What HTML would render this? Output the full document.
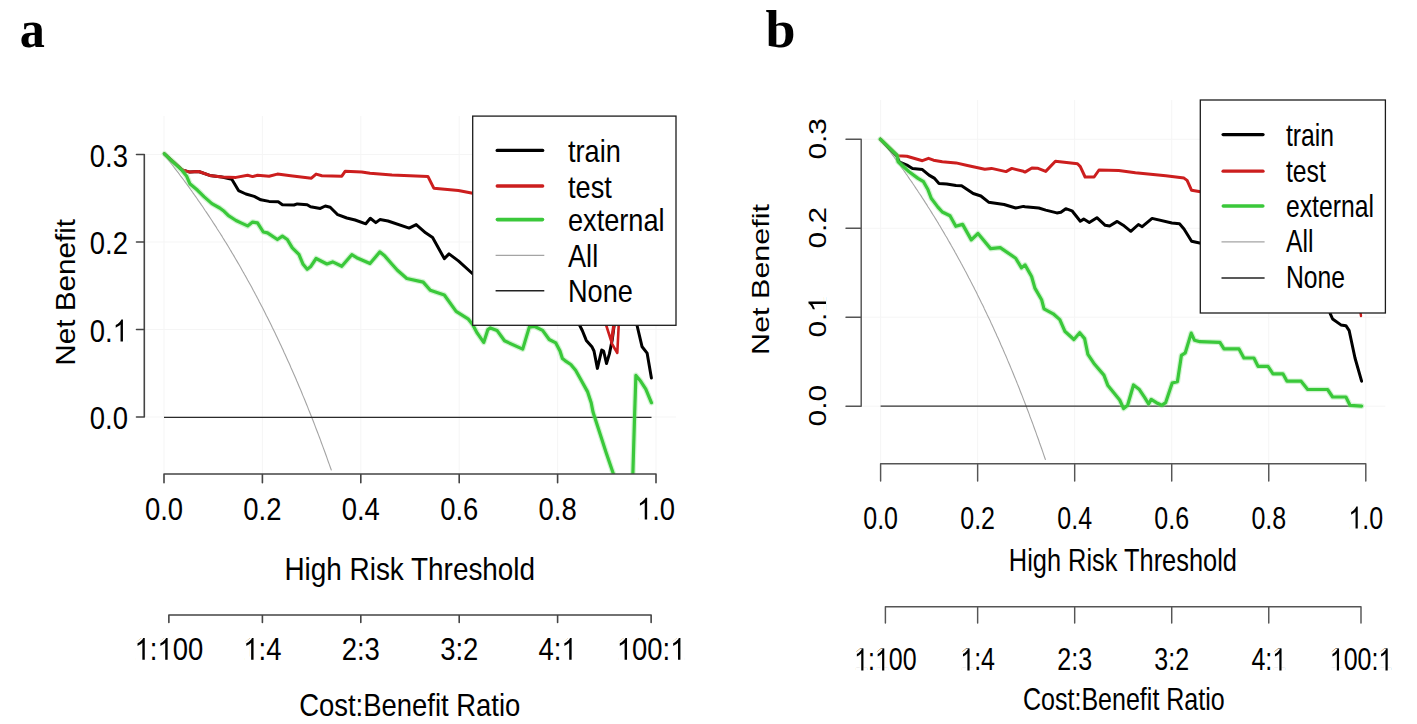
<!DOCTYPE html><html><head><meta charset="utf-8"><style>html,body{margin:0;padding:0;background:#fff;overflow:hidden;}svg{display:block;}</style></head><body>
<svg width="1417" height="724" viewBox="0 0 1417 724">
<rect width="1417" height="724" fill="#fff"/>
<clipPath id="ca"><rect x="144.3" y="116.0" width="531.7" height="358.0"/></clipPath>
<line x1="164.0" y1="116.0" x2="164.0" y2="474.0" stroke="#f5f5f5" stroke-width="1" stroke-linecap="butt"/>
<line x1="262.4" y1="116.0" x2="262.4" y2="474.0" stroke="#f5f5f5" stroke-width="1" stroke-linecap="butt"/>
<line x1="360.8" y1="116.0" x2="360.8" y2="474.0" stroke="#f5f5f5" stroke-width="1" stroke-linecap="butt"/>
<line x1="459.2" y1="116.0" x2="459.2" y2="474.0" stroke="#f5f5f5" stroke-width="1" stroke-linecap="butt"/>
<line x1="557.6" y1="116.0" x2="557.6" y2="474.0" stroke="#f5f5f5" stroke-width="1" stroke-linecap="butt"/>
<line x1="656.0" y1="116.0" x2="656.0" y2="474.0" stroke="#f5f5f5" stroke-width="1" stroke-linecap="butt"/>
<line x1="144.3" y1="417.0" x2="676.0" y2="417.0" stroke="#f5f5f5" stroke-width="1" stroke-linecap="butt"/>
<line x1="144.3" y1="329.5" x2="676.0" y2="329.5" stroke="#f5f5f5" stroke-width="1" stroke-linecap="butt"/>
<line x1="144.3" y1="242.0" x2="676.0" y2="242.0" stroke="#f5f5f5" stroke-width="1" stroke-linecap="butt"/>
<line x1="144.3" y1="154.5" x2="676.0" y2="154.5" stroke="#f5f5f5" stroke-width="1" stroke-linecap="butt"/>
<g clip-path="url(#ca)">
<path d="M164.0,154.5 L165.0,155.7 L166.0,157.0 L167.0,158.2 L167.9,159.4 L168.9,160.7 L169.9,161.9 L170.9,163.2 L171.9,164.5 L172.9,165.7 L173.8,167.0 L174.8,168.3 L175.8,169.6 L176.8,170.9 L177.8,172.1 L178.8,173.4 L179.7,174.7 L180.7,176.1 L181.7,177.4 L182.7,178.7 L183.7,180.0 L184.7,181.4 L185.6,182.7 L186.6,184.0 L187.6,185.4 L188.6,186.7 L189.6,188.1 L190.6,189.5 L191.6,190.8 L192.5,192.2 L193.5,193.6 L194.5,195.0 L195.5,196.4 L196.5,197.8 L197.5,199.2 L198.4,200.6 L199.4,202.0 L200.4,203.4 L201.4,204.9 L202.4,206.3 L203.4,207.8 L204.3,209.2 L205.3,210.7 L206.3,212.1 L207.3,213.6 L208.3,215.1 L209.3,216.6 L210.2,218.0 L211.2,219.5 L212.2,221.0 L213.2,222.6 L214.2,224.1 L215.2,225.6 L216.2,227.1 L217.1,228.7 L218.1,230.2 L219.1,231.8 L220.1,233.3 L221.1,234.9 L222.1,236.4 L223.0,238.0 L224.0,239.6 L225.0,241.2 L226.0,242.8 L227.0,244.4 L228.0,246.0 L228.9,247.6 L229.9,249.3 L230.9,250.9 L231.9,252.6 L232.9,254.2 L233.9,255.9 L234.8,257.5 L235.8,259.2 L236.8,260.9 L237.8,262.6 L238.8,264.3 L239.8,266.0 L240.8,267.7 L241.7,269.4 L242.7,271.2 L243.7,272.9 L244.7,274.7 L245.7,276.4 L246.7,278.2 L247.6,280.0 L248.6,281.7 L249.6,283.5 L250.6,285.3 L251.6,287.1 L252.6,289.0 L253.5,290.8 L254.5,292.6 L255.5,294.5 L256.5,296.3 L257.5,298.2 L258.5,300.0 L259.4,301.9 L260.4,303.8 L261.4,305.7 L262.4,307.6 L263.4,309.5 L264.4,311.5 L265.4,313.4 L266.3,315.4 L267.3,317.3 L268.3,319.3 L269.3,321.3 L270.3,323.3 L271.3,325.2 L272.2,327.3 L273.2,329.3 L274.2,331.3 L275.2,333.3 L276.2,335.4 L277.2,337.5 L278.1,339.5 L279.1,341.6 L280.1,343.7 L281.1,345.8 L282.1,347.9 L283.1,350.0 L284.0,352.2 L285.0,354.3 L286.0,356.5 L287.0,358.7 L288.0,360.9 L289.0,363.0 L290.0,365.3 L290.9,367.5 L291.9,369.7 L292.9,371.9 L293.9,374.2 L294.9,376.5 L295.9,378.7 L296.8,381.0 L297.8,383.3 L298.8,385.7 L299.8,388.0 L300.8,390.3 L301.8,392.7 L302.7,395.1 L303.7,397.4 L304.7,399.8 L305.7,402.3 L306.7,404.7 L307.7,407.1 L308.6,409.6 L309.6,412.0 L310.6,414.5 L311.6,417.0 L312.6,419.5 L313.6,422.0 L314.6,424.6 L315.5,427.1 L316.5,429.7 L317.5,432.3 L318.5,434.9 L319.5,437.5 L320.5,440.1 L321.4,442.7 L322.4,445.4 L323.4,448.1 L324.4,450.8 L325.4,453.5 L326.4,456.2 L327.3,458.9 L328.3,461.7 L329.3,464.4 L330.3,467.2 L331.3,470.0" fill="none" stroke="#a4a4a4" stroke-width="1.1" stroke-linejoin="round" stroke-linecap="round" />
<line x1="164.0" y1="417.3" x2="651.5" y2="417.3" stroke="#2a2a2a" stroke-width="1.3" stroke-linecap="butt"/>
</g>
<g clip-path="url(#ca)">
<path d="M164.4,153.8 L182.1,169.9 L189.8,172.1 L198.7,171.5 L209.7,175.4 L221.9,177.0 L231.8,179.3 L235.1,184.8 L238.5,190.6 L245.9,194.0 L254.2,196.4 L260.8,199.8 L269.1,201.4 L278.2,201.7 L282.4,204.7 L294.0,205.0 L297.3,203.9 L307.2,204.7 L310.5,206.7 L320.3,208.4 L325.3,206.0 L330.2,207.2 L337.7,214.7 L346.8,218.0 L355.1,220.0 L365.8,223.8 L370.3,218.3 L375.8,222.6 L379.9,219.6 L388.0,221.0 L409.1,228.1 L416.2,224.6 L425.6,232.8 L432.6,237.5 L444.3,258.6 L449.0,253.9 L458.4,260.9 L474.0,275.0" fill="none" stroke="#000" stroke-width="3.0" stroke-linejoin="round" stroke-linecap="round" />
<path d="M579.0,324.0 L582.4,330.7 L586.3,340.4 L592.1,347.1 L594.0,351.0 L597.4,368.4 L601.7,350.0 L603.6,351.0 L606.5,363.5 L609.4,353.9 L612.3,339.4 L614.3,324.0" fill="none" stroke="#000" stroke-width="3.0" stroke-linejoin="round" stroke-linecap="round" />
<path d="M636.7,324.0 L642.1,346.8 L647.1,353.1 L651.4,377.9" fill="none" stroke="#000" stroke-width="3.0" stroke-linejoin="round" stroke-linecap="round" />
<path d="M164.4,153.8 L182.1,169.9 L189.8,172.1 L198.7,171.5 L209.7,175.4 L221.9,177.0 L236.0,177.4 L247.6,175.2 L252.6,176.6 L257.5,175.2 L269.1,176.2 L277.4,174.1 L290.7,175.7 L311.4,178.2 L316.1,174.1 L321.9,175.7 L341.8,176.2 L345.1,171.3 L361.7,171.9 L370.0,173.3 L392.0,174.9 L427.9,176.4 L433.8,188.2 L458.4,190.5 L474.0,193.5" fill="none" stroke="#cc1e1e" stroke-width="3.0" stroke-linejoin="round" stroke-linecap="round" />
<path d="M606.1,325.0 L611.2,341.0 L613.5,325.0 L614.2,325.0 L611.5,343.0 L617.3,353.0 L618.7,325.0" fill="none" stroke="#cc1e1e" stroke-width="2.6" stroke-linejoin="round" stroke-linecap="round" />
<path d="M164.4,153.8 L182.1,170.4 L186.5,175.9 L189.8,183.7 L197.6,190.3 L204.2,196.9 L211.9,203.6 L219.7,208.0 L224.1,211.3 L228.5,215.7 L236.0,220.5 L241.0,222.9 L247.6,225.9 L252.6,222.1 L257.5,222.9 L263.3,232.0 L267.5,232.9 L277.4,239.5 L282.4,236.2 L287.3,239.5 L292.3,247.8 L298.9,254.4 L303.1,264.3 L307.2,269.3 L310.5,266.8 L316.1,258.5 L326.9,264.0 L332.7,261.9 L341.8,266.3 L351.8,254.7 L356.7,257.7 L370.0,263.5 L379.9,251.9 L384.9,256.1 L392.0,264.3 L397.4,270.3 L406.8,278.5 L423.2,282.1 L430.3,290.3 L444.3,295.0 L456.1,311.4 L468.0,318.8 L472.6,324.6 L477.1,332.9 L483.7,342.4 L487.9,329.6 L490.4,327.9 L497.0,330.4 L504.5,340.8 L522.7,349.1 L529.3,327.1 L534.3,326.3 L542.6,330.4 L549.2,339.5 L555.8,342.9 L560.0,351.1 L562.4,358.6 L565.0,360.6 L570.8,364.5 L575.6,370.3 L580.5,379.0 L587.5,391.6 L591.2,402.7 L593.0,412.0 L606.0,452.2 L614.1,476.0" fill="none" stroke="#7fe07f" stroke-width="5.6" stroke-linejoin="round" stroke-linecap="round" opacity="0.35"/>
<path d="M632.8,476.0 L634.7,412.0 L635.9,375.4 L640.9,381.6 L645.8,389.1 L651.4,402.7" fill="none" stroke="#7fe07f" stroke-width="5.6" stroke-linejoin="round" stroke-linecap="round" opacity="0.35"/>
<path d="M164.4,153.8 L182.1,170.4 L186.5,175.9 L189.8,183.7 L197.6,190.3 L204.2,196.9 L211.9,203.6 L219.7,208.0 L224.1,211.3 L228.5,215.7 L236.0,220.5 L241.0,222.9 L247.6,225.9 L252.6,222.1 L257.5,222.9 L263.3,232.0 L267.5,232.9 L277.4,239.5 L282.4,236.2 L287.3,239.5 L292.3,247.8 L298.9,254.4 L303.1,264.3 L307.2,269.3 L310.5,266.8 L316.1,258.5 L326.9,264.0 L332.7,261.9 L341.8,266.3 L351.8,254.7 L356.7,257.7 L370.0,263.5 L379.9,251.9 L384.9,256.1 L392.0,264.3 L397.4,270.3 L406.8,278.5 L423.2,282.1 L430.3,290.3 L444.3,295.0 L456.1,311.4 L468.0,318.8 L472.6,324.6 L477.1,332.9 L483.7,342.4 L487.9,329.6 L490.4,327.9 L497.0,330.4 L504.5,340.8 L522.7,349.1 L529.3,327.1 L534.3,326.3 L542.6,330.4 L549.2,339.5 L555.8,342.9 L560.0,351.1 L562.4,358.6 L565.0,360.6 L570.8,364.5 L575.6,370.3 L580.5,379.0 L587.5,391.6 L591.2,402.7 L593.0,412.0 L606.0,452.2 L614.1,476.0" fill="none" stroke="#3ac83a" stroke-width="3.2" stroke-linejoin="round" stroke-linecap="round" />
<path d="M632.8,476.0 L634.7,412.0 L635.9,375.4 L640.9,381.6 L645.8,389.1 L651.4,402.7" fill="none" stroke="#3ac83a" stroke-width="3.2" stroke-linejoin="round" stroke-linecap="round" />
</g>
<path d="M136.5,154.5 H144.3 V417.0 H136.5 M136.5,329.5 H144.3 M136.5,242.0 H144.3" fill="none" stroke="#444" stroke-width="1.6" stroke-linejoin="round" stroke-linecap="round"/>
<path d="M164.0,474.0 H656.0 M164.0,474.0 V482.7 M262.4,474.0 V482.7 M360.8,474.0 V482.7 M459.2,474.0 V482.7 M557.6,474.0 V482.7 M656.0,474.0 V482.7" fill="none" stroke="#444" stroke-width="1.6" stroke-linejoin="round" stroke-linecap="round"/>
<path d="M168.8708,615 H651.1292 M168.8708,615 V622.5 M262.4,615 V622.5 M360.8,615 V622.5 M459.2,615 V622.5 M557.6,615 V622.5 M651.1292,615 V622.5" fill="none" stroke="#444" stroke-width="1.6" stroke-linejoin="round" stroke-linecap="round"/>
<text x="0" y="0" font-size="30.5" text-anchor="end" font-family='"Liberation Sans", sans-serif' font-weight="normal" fill="#000" transform="translate(128.00,429.00) scale(0.9000,1.0000)">0.0</text>
<g transform="translate(128.00,341.50) scale(0.9000,1.0000)"><text id="t1" x="0" y="0" font-size="30.5" text-anchor="end" font-family='"Liberation Sans", sans-serif' font-weight="normal" fill="#000">0.1</text><path d="M156 0V153H515V1237L197 1010V1180L530 1409H696V153H1039V0Z" transform="translate(-16.983,0.000) scale(0.014893,-0.014893)" fill="#fff" stroke="#fff" stroke-width="120.9"/><path d="M763 0H583V1147Q518 1085 412.5 1023Q307 961 223 930V1104Q374 1175 487 1276Q600 1377 647 1472H763Z" transform="translate(-16.983,0.000) scale(0.014893,-0.014893)" fill="#000"/></g>
<text x="0" y="0" font-size="30.5" text-anchor="end" font-family='"Liberation Sans", sans-serif' font-weight="normal" fill="#000" transform="translate(128.00,254.00) scale(0.9000,1.0000)">0.2</text>
<text x="0" y="0" font-size="30.5" text-anchor="end" font-family='"Liberation Sans", sans-serif' font-weight="normal" fill="#000" transform="translate(128.00,166.50) scale(0.9000,1.0000)">0.3</text>
<text x="0" y="0" font-size="30.5" text-anchor="middle" font-family='"Liberation Sans", sans-serif' font-weight="normal" fill="#000" transform="translate(164.00,519.60) scale(0.9000,1.0000)">0.0</text>
<text x="0" y="0" font-size="30.5" text-anchor="middle" font-family='"Liberation Sans", sans-serif' font-weight="normal" fill="#000" transform="translate(262.40,519.60) scale(0.9000,1.0000)">0.2</text>
<text x="0" y="0" font-size="30.5" text-anchor="middle" font-family='"Liberation Sans", sans-serif' font-weight="normal" fill="#000" transform="translate(360.80,519.60) scale(0.9000,1.0000)">0.4</text>
<text x="0" y="0" font-size="30.5" text-anchor="middle" font-family='"Liberation Sans", sans-serif' font-weight="normal" fill="#000" transform="translate(459.20,519.60) scale(0.9000,1.0000)">0.6</text>
<text x="0" y="0" font-size="30.5" text-anchor="middle" font-family='"Liberation Sans", sans-serif' font-weight="normal" fill="#000" transform="translate(557.60,519.60) scale(0.9000,1.0000)">0.8</text>
<g transform="translate(656.00,519.60) scale(0.9000,1.0000)"><text id="t2" x="0" y="0" font-size="30.5" text-anchor="middle" font-family='"Liberation Sans", sans-serif' font-weight="normal" fill="#000">1.0</text><path d="M156 0V153H515V1237L197 1010V1180L530 1409H696V153H1039V0Z" transform="translate(-21.196,0.000) scale(0.014893,-0.014893)" fill="#fff" stroke="#fff" stroke-width="120.9"/><path d="M763 0H583V1147Q518 1085 412.5 1023Q307 961 223 930V1104Q374 1175 487 1276Q600 1377 647 1472H763Z" transform="translate(-21.196,0.000) scale(0.014893,-0.014893)" fill="#000"/></g>
<g transform="translate(168.87,659.80) scale(0.9000,1.0000)"><text id="t3" x="0" y="0" font-size="30.5" text-anchor="middle" font-family='"Liberation Sans", sans-serif' font-weight="normal" fill="#000">1:100</text><path d="M156 0V153H515V1237L197 1010V1180L530 1409H696V153H1039V0Z" transform="translate(-38.146,0.000) scale(0.014893,-0.014893)" fill="#fff" stroke="#fff" stroke-width="120.9"/><path d="M763 0H583V1147Q518 1085 412.5 1023Q307 961 223 930V1104Q374 1175 487 1276Q600 1377 647 1472H763Z" transform="translate(-38.146,0.000) scale(0.014893,-0.014893)" fill="#000"/><path d="M156 0V153H515V1237L197 1010V1180L530 1409H696V153H1039V0Z" transform="translate(-12.737,0.000) scale(0.014893,-0.014893)" fill="#fff" stroke="#fff" stroke-width="120.9"/><path d="M763 0H583V1147Q518 1085 412.5 1023Q307 961 223 930V1104Q374 1175 487 1276Q600 1377 647 1472H763Z" transform="translate(-12.737,0.000) scale(0.014893,-0.014893)" fill="#000"/></g>
<g transform="translate(262.40,659.80) scale(0.9000,1.0000)"><text id="t4" x="0" y="0" font-size="30.5" text-anchor="middle" font-family='"Liberation Sans", sans-serif' font-weight="normal" fill="#000">1:4</text><path d="M156 0V153H515V1237L197 1010V1180L530 1409H696V153H1039V0Z" transform="translate(-21.196,0.000) scale(0.014893,-0.014893)" fill="#fff" stroke="#fff" stroke-width="120.9"/><path d="M763 0H583V1147Q518 1085 412.5 1023Q307 961 223 930V1104Q374 1175 487 1276Q600 1377 647 1472H763Z" transform="translate(-21.196,0.000) scale(0.014893,-0.014893)" fill="#000"/></g>
<text x="0" y="0" font-size="30.5" text-anchor="middle" font-family='"Liberation Sans", sans-serif' font-weight="normal" fill="#000" transform="translate(360.80,659.80) scale(0.9000,1.0000)">2:3</text>
<text x="0" y="0" font-size="30.5" text-anchor="middle" font-family='"Liberation Sans", sans-serif' font-weight="normal" fill="#000" transform="translate(459.20,659.80) scale(0.9000,1.0000)">3:2</text>
<g transform="translate(557.60,659.80) scale(0.9000,1.0000)"><text id="t5" x="0" y="0" font-size="30.5" text-anchor="middle" font-family='"Liberation Sans", sans-serif' font-weight="normal" fill="#000">4:1</text><path d="M156 0V153H515V1237L197 1010V1180L530 1409H696V153H1039V0Z" transform="translate(4.213,0.000) scale(0.014893,-0.014893)" fill="#fff" stroke="#fff" stroke-width="120.9"/><path d="M763 0H583V1147Q518 1085 412.5 1023Q307 961 223 930V1104Q374 1175 487 1276Q600 1377 647 1472H763Z" transform="translate(4.213,0.000) scale(0.014893,-0.014893)" fill="#000"/></g>
<g transform="translate(651.13,659.80) scale(0.9000,1.0000)"><text id="t6" x="0" y="0" font-size="30.5" text-anchor="middle" font-family='"Liberation Sans", sans-serif' font-weight="normal" fill="#000">100:1</text><path d="M156 0V153H515V1237L197 1010V1180L530 1409H696V153H1039V0Z" transform="translate(-38.146,0.000) scale(0.014893,-0.014893)" fill="#fff" stroke="#fff" stroke-width="120.9"/><path d="M763 0H583V1147Q518 1085 412.5 1023Q307 961 223 930V1104Q374 1175 487 1276Q600 1377 647 1472H763Z" transform="translate(-38.146,0.000) scale(0.014893,-0.014893)" fill="#000"/><path d="M156 0V153H515V1237L197 1010V1180L530 1409H696V153H1039V0Z" transform="translate(21.180,0.000) scale(0.014893,-0.014893)" fill="#fff" stroke="#fff" stroke-width="120.9"/><path d="M763 0H583V1147Q518 1085 412.5 1023Q307 961 223 930V1104Q374 1175 487 1276Q600 1377 647 1472H763Z" transform="translate(21.180,0.000) scale(0.014893,-0.014893)" fill="#000"/></g>
<text x="0" y="0" font-size="30.5" text-anchor="middle" font-family='"Liberation Sans", sans-serif' font-weight="normal" fill="#000" transform="translate(409.75,579.60) scale(0.9150,1.0000)">High Risk Threshold</text>
<text x="0" y="0" font-size="30.5" text-anchor="middle" font-family='"Liberation Sans", sans-serif' font-weight="normal" fill="#000" transform="translate(409.75,716.00) scale(0.9000,1.0000)">Cost:Benefit Ratio</text>
<text x="0" y="0" font-size="30.5" text-anchor="middle" font-family='"Liberation Sans", sans-serif' font-weight="normal" fill="#000" transform="translate(75.40,292.35) rotate(-90) scale(0.9730,0.9090)">Net Benefit</text>
<rect x="472.7" y="116.1" width="203.3" height="209.2" fill="#fff" stroke="#1c1c1c" stroke-width="1.3"/>
<line x1="497.2" y1="150.4" x2="542.7" y2="150.4" stroke="#000" stroke-width="3.3" stroke-linecap="round"/>
<line x1="497.2" y1="186" x2="542.7" y2="186" stroke="#cc1e1e" stroke-width="3.3" stroke-linecap="round"/>
<line x1="497.4" y1="219.6" x2="542.5" y2="219.6" stroke="#3ac83a" stroke-width="3.6" stroke-linecap="round"/>
<line x1="495.6" y1="255.3" x2="544.3" y2="255.3" stroke="#a4a4a4" stroke-width="1.2" stroke-linecap="butt"/>
<line x1="495.6" y1="290.8" x2="544.3" y2="290.8" stroke="#222" stroke-width="1.4" stroke-linecap="butt"/>
<text x="0" y="0" font-size="30.5" text-anchor="start" font-family='"Liberation Sans", sans-serif' font-weight="normal" fill="#000" transform="translate(568.00,161.90) scale(0.8900,1.0000)">train</text>
<text x="0" y="0" font-size="30.5" text-anchor="start" font-family='"Liberation Sans", sans-serif' font-weight="normal" fill="#000" transform="translate(568.00,197.50) scale(0.8900,1.0000)">test</text>
<text x="0" y="0" font-size="30.5" text-anchor="start" font-family='"Liberation Sans", sans-serif' font-weight="normal" fill="#000" transform="translate(568.00,231.10) scale(0.8900,1.0000)">external</text>
<text x="0" y="0" font-size="30.5" text-anchor="start" font-family='"Liberation Sans", sans-serif' font-weight="normal" fill="#000" transform="translate(568.00,266.80) scale(0.8900,1.0000)">All</text>
<text x="0" y="0" font-size="30.5" text-anchor="start" font-family='"Liberation Sans", sans-serif' font-weight="normal" fill="#000" transform="translate(568.00,302.30) scale(0.8900,1.0000)">None</text>
<text x="0" y="0" font-size="54" text-anchor="start" font-family='"Liberation Serif", serif' font-weight="bold" fill="#000" transform="translate(19.80,47.20) scale(0.9300,0.9800)">a</text>
<clipPath id="cb"><rect x="861.2" y="100.0" width="524.2" height="363.8"/></clipPath>
<line x1="880.6" y1="100.0" x2="880.6" y2="463.8" stroke="#f5f5f5" stroke-width="1" stroke-linecap="butt"/>
<line x1="977.64" y1="100.0" x2="977.64" y2="463.8" stroke="#f5f5f5" stroke-width="1" stroke-linecap="butt"/>
<line x1="1074.68" y1="100.0" x2="1074.68" y2="463.8" stroke="#f5f5f5" stroke-width="1" stroke-linecap="butt"/>
<line x1="1171.72" y1="100.0" x2="1171.72" y2="463.8" stroke="#f5f5f5" stroke-width="1" stroke-linecap="butt"/>
<line x1="1268.76" y1="100.0" x2="1268.76" y2="463.8" stroke="#f5f5f5" stroke-width="1" stroke-linecap="butt"/>
<line x1="1365.8" y1="100.0" x2="1365.8" y2="463.8" stroke="#f5f5f5" stroke-width="1" stroke-linecap="butt"/>
<line x1="861.2" y1="406.2" x2="1385.4" y2="406.2" stroke="#f5f5f5" stroke-width="1" stroke-linecap="butt"/>
<line x1="861.2" y1="317.23333333333335" x2="1385.4" y2="317.23333333333335" stroke="#f5f5f5" stroke-width="1" stroke-linecap="butt"/>
<line x1="861.2" y1="228.26666666666665" x2="1385.4" y2="228.26666666666665" stroke="#f5f5f5" stroke-width="1" stroke-linecap="butt"/>
<line x1="861.2" y1="139.3" x2="1385.4" y2="139.3" stroke="#f5f5f5" stroke-width="1" stroke-linecap="butt"/>
<g clip-path="url(#cb)">
<path d="M880.6,139.3 L881.6,140.5 L882.5,141.8 L883.5,143.1 L884.5,144.3 L885.5,145.6 L886.4,146.9 L887.4,148.1 L888.4,149.4 L889.3,150.7 L890.3,152.0 L891.3,153.3 L892.2,154.6 L893.2,155.9 L894.2,157.2 L895.2,158.6 L896.1,159.9 L897.1,161.2 L898.1,162.6 L899.0,163.9 L900.0,165.2 L901.0,166.6 L901.9,168.0 L902.9,169.3 L903.9,170.7 L904.9,172.1 L905.8,173.5 L906.8,174.8 L907.8,176.2 L908.7,177.6 L909.7,179.1 L910.7,180.5 L911.7,181.9 L912.6,183.3 L913.6,184.7 L914.6,186.2 L915.5,187.6 L916.5,189.1 L917.5,190.5 L918.4,192.0 L919.4,193.5 L920.4,194.9 L921.4,196.4 L922.3,197.9 L923.3,199.4 L924.3,200.9 L925.2,202.4 L926.2,203.9 L927.2,205.4 L928.1,207.0 L929.1,208.5 L930.1,210.0 L931.1,211.6 L932.0,213.1 L933.0,214.7 L934.0,216.3 L934.9,217.8 L935.9,219.4 L936.9,221.0 L937.9,222.6 L938.8,224.2 L939.8,225.8 L940.8,227.5 L941.7,229.1 L942.7,230.7 L943.7,232.4 L944.6,234.0 L945.6,235.7 L946.6,237.3 L947.6,239.0 L948.5,240.7 L949.5,242.4 L950.5,244.1 L951.4,245.8 L952.4,247.5 L953.4,249.2 L954.4,250.9 L955.3,252.7 L956.3,254.4 L957.3,256.2 L958.2,257.9 L959.2,259.7 L960.2,261.5 L961.1,263.3 L962.1,265.1 L963.1,266.9 L964.1,268.7 L965.0,270.5 L966.0,272.3 L967.0,274.2 L967.9,276.0 L968.9,277.9 L969.9,279.7 L970.8,281.6 L971.8,283.5 L972.8,285.4 L973.8,287.3 L974.7,289.2 L975.7,291.1 L976.7,293.1 L977.6,295.0 L978.6,296.9 L979.6,298.9 L980.6,300.9 L981.5,302.9 L982.5,304.8 L983.5,306.8 L984.4,308.9 L985.4,310.9 L986.4,312.9 L987.3,315.0 L988.3,317.0 L989.3,319.1 L990.3,321.1 L991.2,323.2 L992.2,325.3 L993.2,327.4 L994.1,329.5 L995.1,331.7 L996.1,333.8 L997.0,336.0 L998.0,338.1 L999.0,340.3 L1000.0,342.5 L1000.9,344.7 L1001.9,346.9 L1002.9,349.1 L1003.8,351.3 L1004.8,353.6 L1005.8,355.8 L1006.8,358.1 L1007.7,360.4 L1008.7,362.7 L1009.7,365.0 L1010.6,367.3 L1011.6,369.6 L1012.6,372.0 L1013.5,374.3 L1014.5,376.7 L1015.5,379.1 L1016.5,381.5 L1017.4,383.9 L1018.4,386.3 L1019.4,388.8 L1020.3,391.2 L1021.3,393.7 L1022.3,396.1 L1023.2,398.6 L1024.2,401.1 L1025.2,403.7 L1026.2,406.2 L1027.1,408.7 L1028.1,411.3 L1029.1,413.9 L1030.0,416.5 L1031.0,419.1 L1032.0,421.7 L1033.0,424.4 L1033.9,427.0 L1034.9,429.7 L1035.9,432.4 L1036.8,435.1 L1037.8,437.8 L1038.8,440.5 L1039.7,443.3 L1040.7,446.0 L1041.7,448.8 L1042.7,451.6 L1043.6,454.4 L1044.6,457.3 L1045.4,459.5" fill="none" stroke="#a4a4a4" stroke-width="1.1" stroke-linejoin="round" stroke-linecap="round" />
<line x1="880.6" y1="406.2" x2="1361.6" y2="406.2" stroke="#333" stroke-width="1.25" stroke-linecap="butt"/>
</g>
<g clip-path="url(#cb)">
<path d="M880.4,139.2 L897.0,156.3 L899.2,161.8 L906.9,165.1 L912.5,168.5 L922.4,169.6 L929.0,175.1 L934.6,178.4 L939.0,183.4 L946.7,183.9 L956.0,185.6 L961.6,185.7 L973.2,193.5 L980.9,196.0 L988.6,202.2 L1004.1,204.5 L1015.7,208.0 L1023.4,206.4 L1025.0,206.7 L1038.8,208.0 L1045.7,210.1 L1056.8,212.9 L1060.9,212.2 L1065.8,208.7 L1072.0,210.8 L1080.3,221.2 L1083.7,219.1 L1089.3,222.6 L1096.9,217.7 L1105.2,225.3 L1109.6,226.0 L1117.2,221.4 L1123.2,225.2 L1130.8,231.3 L1138.4,224.5 L1142.2,226.7 L1152.1,218.4 L1171.9,223.0 L1179.5,223.7 L1184.0,229.0 L1191.6,241.2 L1202.0,243.5" fill="none" stroke="#000" stroke-width="3.0" stroke-linejoin="round" stroke-linecap="round" />
<path d="M1330.1,313.3 L1332.6,319.0 L1340.9,324.9 L1345.9,325.7 L1349.2,330.7 L1355.0,358.0 L1361.6,381.2" fill="none" stroke="#000" stroke-width="3.0" stroke-linejoin="round" stroke-linecap="round" />
<path d="M880.4,139.2 L897.0,155.2 L898.1,155.8 L906.9,156.3 L914.7,158.5 L922.4,160.7 L928.5,158.3 L933.5,160.2 L942.3,161.8 L956.0,162.9 L967.4,165.5 L984.8,169.3 L991.5,168.4 L1006.0,171.6 L1011.8,168.4 L1023.4,171.3 L1025.0,172.1 L1031.9,168.0 L1037.4,168.2 L1045.7,171.4 L1055.4,161.3 L1066.5,162.4 L1077.5,163.8 L1080.3,166.6 L1085.1,177.0 L1094.1,177.0 L1099.0,170.0 L1118.7,170.5 L1135.4,172.8 L1165.8,175.8 L1184.0,178.1 L1187.1,180.4 L1191.6,190.3 L1202.0,192.0" fill="none" stroke="#cc1e1e" stroke-width="3.0" stroke-linejoin="round" stroke-linecap="round" />
<path d="M1360.5,312.5 L1361.0,316.0" fill="none" stroke="#cc1e1e" stroke-width="2.4" stroke-linejoin="round" stroke-linecap="round" />
<path d="M880.4,139.2 L897.0,155.2 L898.1,161.8 L909.1,171.8 L918.0,178.4 L923.5,181.7 L927.9,189.5 L931.2,198.3 L937.9,207.1 L942.3,212.0 L950.0,215.7 L955.8,226.3 L962.6,224.4 L971.3,239.9 L978.0,233.5 L990.6,248.6 L1000.2,247.6 L1015.7,258.2 L1021.5,267.9 L1025.0,264.9 L1031.6,276.5 L1034.9,288.1 L1041.6,299.7 L1044.0,308.8 L1053.2,313.8 L1059.8,319.6 L1064.8,331.2 L1073.9,339.5 L1079.7,332.8 L1084.6,338.6 L1087.9,354.4 L1094.6,364.3 L1103.9,375.1 L1107.9,385.6 L1114.4,393.5 L1119.7,400.0 L1123.6,408.6 L1127.6,405.3 L1133.5,385.0 L1139.4,389.6 L1144.6,397.4 L1148.6,404.0 L1151.2,399.4 L1156.4,402.7 L1161.7,405.3 L1165.6,402.7 L1172.2,383.0 L1177.4,381.7 L1181.4,355.4 L1185.3,352.8 L1191.2,333.1 L1194.5,340.3 L1200.0,341.7 L1219.9,342.3 L1224.0,348.9 L1239.0,348.9 L1243.9,358.0 L1253.9,358.0 L1258.0,366.3 L1268.0,366.3 L1273.0,373.8 L1282.9,373.8 L1287.0,381.2 L1301.1,381.2 L1307.7,389.5 L1327.6,389.5 L1332.6,397.0 L1345.9,397.0 L1350.0,405.3 L1361.6,406.1" fill="none" stroke="#7fe07f" stroke-width="5.6" stroke-linejoin="round" stroke-linecap="round" opacity="0.35"/>
<path d="M880.4,139.2 L897.0,155.2 L898.1,161.8 L909.1,171.8 L918.0,178.4 L923.5,181.7 L927.9,189.5 L931.2,198.3 L937.9,207.1 L942.3,212.0 L950.0,215.7 L955.8,226.3 L962.6,224.4 L971.3,239.9 L978.0,233.5 L990.6,248.6 L1000.2,247.6 L1015.7,258.2 L1021.5,267.9 L1025.0,264.9 L1031.6,276.5 L1034.9,288.1 L1041.6,299.7 L1044.0,308.8 L1053.2,313.8 L1059.8,319.6 L1064.8,331.2 L1073.9,339.5 L1079.7,332.8 L1084.6,338.6 L1087.9,354.4 L1094.6,364.3 L1103.9,375.1 L1107.9,385.6 L1114.4,393.5 L1119.7,400.0 L1123.6,408.6 L1127.6,405.3 L1133.5,385.0 L1139.4,389.6 L1144.6,397.4 L1148.6,404.0 L1151.2,399.4 L1156.4,402.7 L1161.7,405.3 L1165.6,402.7 L1172.2,383.0 L1177.4,381.7 L1181.4,355.4 L1185.3,352.8 L1191.2,333.1 L1194.5,340.3 L1200.0,341.7 L1219.9,342.3 L1224.0,348.9 L1239.0,348.9 L1243.9,358.0 L1253.9,358.0 L1258.0,366.3 L1268.0,366.3 L1273.0,373.8 L1282.9,373.8 L1287.0,381.2 L1301.1,381.2 L1307.7,389.5 L1327.6,389.5 L1332.6,397.0 L1345.9,397.0 L1350.0,405.3 L1361.6,406.1" fill="none" stroke="#3ac83a" stroke-width="3.2" stroke-linejoin="round" stroke-linecap="round" />
</g>
<path d="M846,139.3 H861.2 V406.2 H846 M846,317.23333333333335 H861.2 M846,228.26666666666665 H861.2" fill="none" stroke="#555" stroke-width="1.45" stroke-linejoin="round" stroke-linecap="round"/>
<path d="M880.6,463.8 H1365.8 M880.6,463.8 V481.1 M977.64,463.8 V481.1 M1074.68,463.8 V481.1 M1171.72,463.8 V481.1 M1268.76,463.8 V481.1 M1365.8,463.8 V481.1" fill="none" stroke="#555" stroke-width="1.45" stroke-linejoin="round" stroke-linecap="round"/>
<path d="M885.4034800000001,606.8 H1360.99652 M885.4034800000001,606.8 V623 M977.64,606.8 V623 M1074.68,606.8 V623 M1171.72,606.8 V623 M1268.76,606.8 V623 M1360.99652,606.8 V623" fill="none" stroke="#555" stroke-width="1.45" stroke-linejoin="round" stroke-linecap="round"/>
<text x="0" y="0" font-size="30.5" text-anchor="middle" font-family='"Liberation Sans", sans-serif' font-weight="normal" fill="#000" transform="translate(826.00,405.70) rotate(-90) scale(0.9800,0.8000)">0.0</text>
<g transform="translate(826.00,316.73) rotate(-90) scale(0.9800,0.8000)"><text id="t7" x="0" y="0" font-size="30.5" text-anchor="middle" font-family='"Liberation Sans", sans-serif' font-weight="normal" fill="#000">0.1</text><path d="M156 0V153H515V1237L197 1010V1180L530 1409H696V153H1039V0Z" transform="translate(4.227,0.000) scale(0.014893,-0.014893)" fill="#fff" stroke="#fff" stroke-width="120.9"/><path d="M763 0H583V1147Q518 1085 412.5 1023Q307 961 223 930V1104Q374 1175 487 1276Q600 1377 647 1472H763Z" transform="translate(4.227,0.000) scale(0.014893,-0.014893)" fill="#000"/></g>
<text x="0" y="0" font-size="30.5" text-anchor="middle" font-family='"Liberation Sans", sans-serif' font-weight="normal" fill="#000" transform="translate(826.00,227.77) rotate(-90) scale(0.9800,0.8000)">0.2</text>
<text x="0" y="0" font-size="30.5" text-anchor="middle" font-family='"Liberation Sans", sans-serif' font-weight="normal" fill="#000" transform="translate(826.00,138.80) rotate(-90) scale(0.9800,0.8000)">0.3</text>
<text x="0" y="0" font-size="30.5" text-anchor="middle" font-family='"Liberation Sans", sans-serif' font-weight="normal" fill="#000" transform="translate(880.60,528.50) scale(0.8200,1.0000)">0.0</text>
<text x="0" y="0" font-size="30.5" text-anchor="middle" font-family='"Liberation Sans", sans-serif' font-weight="normal" fill="#000" transform="translate(977.64,528.50) scale(0.8200,1.0000)">0.2</text>
<text x="0" y="0" font-size="30.5" text-anchor="middle" font-family='"Liberation Sans", sans-serif' font-weight="normal" fill="#000" transform="translate(1074.68,528.50) scale(0.8200,1.0000)">0.4</text>
<text x="0" y="0" font-size="30.5" text-anchor="middle" font-family='"Liberation Sans", sans-serif' font-weight="normal" fill="#000" transform="translate(1171.72,528.50) scale(0.8200,1.0000)">0.6</text>
<text x="0" y="0" font-size="30.5" text-anchor="middle" font-family='"Liberation Sans", sans-serif' font-weight="normal" fill="#000" transform="translate(1268.76,528.50) scale(0.8200,1.0000)">0.8</text>
<g transform="translate(1365.80,528.50) scale(0.8200,1.0000)"><text id="t8" x="0" y="0" font-size="30.5" text-anchor="middle" font-family='"Liberation Sans", sans-serif' font-weight="normal" fill="#000">1.0</text><path d="M156 0V153H515V1237L197 1010V1180L530 1409H696V153H1039V0Z" transform="translate(-21.196,0.000) scale(0.014893,-0.014893)" fill="#fff" stroke="#fff" stroke-width="120.9"/><path d="M763 0H583V1147Q518 1085 412.5 1023Q307 961 223 930V1104Q374 1175 487 1276Q600 1377 647 1472H763Z" transform="translate(-21.196,0.000) scale(0.014893,-0.014893)" fill="#000"/></g>
<g transform="translate(885.40,670.40) scale(0.8200,1.0000)"><text id="t9" x="0" y="0" font-size="30.5" text-anchor="middle" font-family='"Liberation Sans", sans-serif' font-weight="normal" fill="#000">1:100</text><path d="M156 0V153H515V1237L197 1010V1180L530 1409H696V153H1039V0Z" transform="translate(-38.147,0.000) scale(0.014893,-0.014893)" fill="#fff" stroke="#fff" stroke-width="120.9"/><path d="M763 0H583V1147Q518 1085 412.5 1023Q307 961 223 930V1104Q374 1175 487 1276Q600 1377 647 1472H763Z" transform="translate(-38.147,0.000) scale(0.014893,-0.014893)" fill="#000"/><path d="M156 0V153H515V1237L197 1010V1180L530 1409H696V153H1039V0Z" transform="translate(-12.738,0.000) scale(0.014893,-0.014893)" fill="#fff" stroke="#fff" stroke-width="120.9"/><path d="M763 0H583V1147Q518 1085 412.5 1023Q307 961 223 930V1104Q374 1175 487 1276Q600 1377 647 1472H763Z" transform="translate(-12.738,0.000) scale(0.014893,-0.014893)" fill="#000"/></g>
<g transform="translate(977.64,670.40) scale(0.8200,1.0000)"><text id="t10" x="0" y="0" font-size="30.5" text-anchor="middle" font-family='"Liberation Sans", sans-serif' font-weight="normal" fill="#000">1:4</text><path d="M156 0V153H515V1237L197 1010V1180L530 1409H696V153H1039V0Z" transform="translate(-21.196,0.000) scale(0.014893,-0.014893)" fill="#fff" stroke="#fff" stroke-width="120.9"/><path d="M763 0H583V1147Q518 1085 412.5 1023Q307 961 223 930V1104Q374 1175 487 1276Q600 1377 647 1472H763Z" transform="translate(-21.196,0.000) scale(0.014893,-0.014893)" fill="#000"/></g>
<text x="0" y="0" font-size="30.5" text-anchor="middle" font-family='"Liberation Sans", sans-serif' font-weight="normal" fill="#000" transform="translate(1074.68,670.40) scale(0.8200,1.0000)">2:3</text>
<text x="0" y="0" font-size="30.5" text-anchor="middle" font-family='"Liberation Sans", sans-serif' font-weight="normal" fill="#000" transform="translate(1171.72,670.40) scale(0.8200,1.0000)">3:2</text>
<g transform="translate(1268.76,670.40) scale(0.8200,1.0000)"><text id="t11" x="0" y="0" font-size="30.5" text-anchor="middle" font-family='"Liberation Sans", sans-serif' font-weight="normal" fill="#000">4:1</text><path d="M156 0V153H515V1237L197 1010V1180L530 1409H696V153H1039V0Z" transform="translate(4.212,0.000) scale(0.014893,-0.014893)" fill="#fff" stroke="#fff" stroke-width="120.9"/><path d="M763 0H583V1147Q518 1085 412.5 1023Q307 961 223 930V1104Q374 1175 487 1276Q600 1377 647 1472H763Z" transform="translate(4.212,0.000) scale(0.014893,-0.014893)" fill="#000"/></g>
<g transform="translate(1361.00,670.40) scale(0.8200,1.0000)"><text id="t12" x="0" y="0" font-size="30.5" text-anchor="middle" font-family='"Liberation Sans", sans-serif' font-weight="normal" fill="#000">100:1</text><path d="M156 0V153H515V1237L197 1010V1180L530 1409H696V153H1039V0Z" transform="translate(-38.147,0.000) scale(0.014893,-0.014893)" fill="#fff" stroke="#fff" stroke-width="120.9"/><path d="M763 0H583V1147Q518 1085 412.5 1023Q307 961 223 930V1104Q374 1175 487 1276Q600 1377 647 1472H763Z" transform="translate(-38.147,0.000) scale(0.014893,-0.014893)" fill="#000"/><path d="M156 0V153H515V1237L197 1010V1180L530 1409H696V153H1039V0Z" transform="translate(21.179,0.000) scale(0.014893,-0.014893)" fill="#fff" stroke="#fff" stroke-width="120.9"/><path d="M763 0H583V1147Q518 1085 412.5 1023Q307 961 223 930V1104Q374 1175 487 1276Q600 1377 647 1472H763Z" transform="translate(21.179,0.000) scale(0.014893,-0.014893)" fill="#000"/></g>
<text x="0" y="0" font-size="30.5" text-anchor="middle" font-family='"Liberation Sans", sans-serif' font-weight="normal" fill="#000" transform="translate(1122.85,570.50) scale(0.8330,1.0000)">High Risk Threshold</text>
<text x="0" y="0" font-size="30.5" text-anchor="middle" font-family='"Liberation Sans", sans-serif' font-weight="normal" fill="#000" transform="translate(1123.85,709.80) scale(0.8210,1.0000)">Cost:Benefit Ratio</text>
<text x="0" y="0" font-size="30.5" text-anchor="middle" font-family='"Liberation Sans", sans-serif' font-weight="normal" fill="#000" transform="translate(769.00,279.45) rotate(-90) scale(1.0000,0.7800)">Net Benefit</text>
<rect x="1200.3" y="100" width="185.1" height="213" fill="#fff" stroke="#1c1c1c" stroke-width="1.3"/>
<line x1="1223.1" y1="134.6" x2="1263" y2="134.6" stroke="#000" stroke-width="3.3" stroke-linecap="round"/>
<line x1="1223.1" y1="171.2" x2="1263" y2="171.2" stroke="#cc1e1e" stroke-width="3.3" stroke-linecap="round"/>
<line x1="1223.3" y1="206.0" x2="1262.8" y2="206.0" stroke="#3ac83a" stroke-width="3.6" stroke-linecap="round"/>
<line x1="1221.5" y1="241.8" x2="1264.6" y2="241.8" stroke="#a4a4a4" stroke-width="1.2" stroke-linecap="butt"/>
<line x1="1221.5" y1="278.0" x2="1264.6" y2="278.0" stroke="#222" stroke-width="1.4" stroke-linecap="butt"/>
<text x="0" y="0" font-size="30.5" text-anchor="start" font-family='"Liberation Sans", sans-serif' font-weight="normal" fill="#000" transform="translate(1286.00,146.20) scale(0.8100,1.0000)">train</text>
<text x="0" y="0" font-size="30.5" text-anchor="start" font-family='"Liberation Sans", sans-serif' font-weight="normal" fill="#000" transform="translate(1286.00,181.50) scale(0.8100,1.0000)">test</text>
<text x="0" y="0" font-size="30.5" text-anchor="start" font-family='"Liberation Sans", sans-serif' font-weight="normal" fill="#000" transform="translate(1286.00,216.60) scale(0.8100,1.0000)">external</text>
<text x="0" y="0" font-size="30.5" text-anchor="start" font-family='"Liberation Sans", sans-serif' font-weight="normal" fill="#000" transform="translate(1286.00,252.00) scale(0.8100,1.0000)">All</text>
<text x="0" y="0" font-size="30.5" text-anchor="start" font-family='"Liberation Sans", sans-serif' font-weight="normal" fill="#000" transform="translate(1286.00,287.50) scale(0.8100,1.0000)">None</text>
<text x="0" y="0" font-size="54" text-anchor="start" font-family='"Liberation Serif", serif' font-weight="bold" fill="#000" transform="translate(765.50,47.20) scale(1.0000,0.9650)">b</text>
</svg></body></html>
